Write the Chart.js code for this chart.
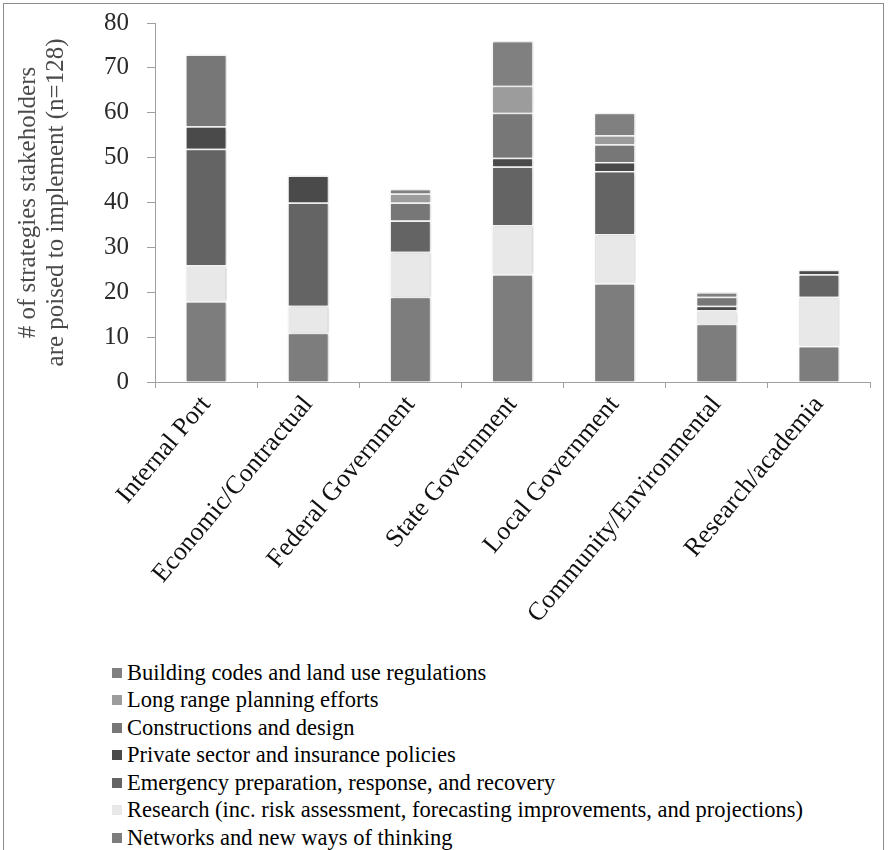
<!DOCTYPE html>
<html>
<head>
<meta charset="utf-8">
<script src="https://cdn.jsdelivr.net/npm/chart.js@4"></script>
<style>
  body { margin: 0; background: #fff; }
  #wrap { position: relative; width: 890px; height: 850px; overflow: hidden; background: #fff; }
  #frame { position: absolute; left: 3px; top: 3px; width: 881px; height: 900px; border: 1px solid #8c8c8c; box-sizing: border-box; }
  #chart { position: absolute; left: 0; top: 0; }
  #legend { position: absolute; left: 112px; top: 659px; font-family: 'Liberation Serif', serif; font-size: 22.5px; color: #000; }
  .item { display: flex; align-items: center; height: 27.5px; white-space: nowrap; }
  .sw { width: 10px; height: 10px; margin-right: 5px; flex: none; }
</style>
</head>
<body>
<div id="wrap">
  <div id="frame"></div>
  <canvas id="chart" width="890" height="640"></canvas>
  <div id="legend"></div>
</div>
<script>
// Stakeholder groups along the x axis
const categories = ['Internal Port', 'Economic/Contractual', 'Federal Government', 'State Government',
  'Local Government', 'Community/Environmental', 'Research/academia'];

// Strategy types, stacked bottom to top
const networks      = [18, 11, 19, 24, 22, 13, 8];
const research      = [8, 6, 10, 11, 11, 3, 11];
const emergency     = [26, 23, 7, 13, 14, 0, 5];
const privateSector = [5, 6, 0, 2, 2, 1, 1];
const constructions = [16, 0, 4, 10, 4, 2, 0];
const longRange     = [0, 0, 2, 6, 2, 0, 0];
const buildingCodes = [0, 0, 1, 10, 5, 1, 0];

const yTicks = [0, 10, 20, 30, 40, 50, 60, 70, 80];
const yTitle = ['# of strategies stakeholders', 'are poised to implement (n=128)'];

const series = [
  { label: 'Networks and new ways of thinking', data: networks, color: '#7d7d7d' },
  { label: 'Research (inc. risk assessment, forecasting improvements, and projections)', data: research, color: '#e8e8e8' },
  { label: 'Emergency preparation, response, and recovery', data: emergency, color: '#646464' },
  { label: 'Private sector and insurance policies', data: privateSector, color: '#4a4a4a' },
  { label: 'Constructions and design', data: constructions, color: '#777777' },
  { label: 'Long range planning efforts', data: longRange, color: '#9c9c9c' },
  { label: 'Building codes and land use regulations', data: buildingCodes, color: '#808080' }
];

const serif = 'Liberation Serif';

// soft drop shadow behind the bar segments
const barShadow = {
  id: 'barShadow',
  beforeDatasetsDraw(chart) {
    const ctx = chart.ctx;
    ctx.save();
    ctx.shadowColor = 'rgba(0,0,0,0.22)';
    ctx.shadowBlur = 3;
    ctx.shadowOffsetX = 1;
    ctx.shadowOffsetY = 0;
  },
  afterDatasetsDraw(chart) { chart.ctx.restore(); }
};

const chart = new Chart(document.getElementById('chart'), {
  type: 'bar',
  data: {
    labels: categories,
    datasets: series.map(s => ({
      label: s.label,
      data: s.data,
      backgroundColor: s.color,
      borderColor: '#ffffff',
      borderWidth: 1.5,
      categoryPercentage: 1,
      barPercentage: 0.41
    }))
  },
  plugins: [barShadow],
  options: {
    responsive: false,
    animation: false,
    layout: { padding: { left: 0, right: 20, top: 23, bottom: 0 } },
    plugins: { legend: { display: false }, tooltip: { enabled: false } },
    scales: {
      x: {
        stacked: true,
        grid: { offset: true, drawOnChartArea: false, tickLength: 6, color: '#a0a0a0' },
        border: { color: '#a0a0a0' },
        ticks: {
          autoSkip: false, minRotation: 50, maxRotation: 50, padding: 2,
          color: '#111', font: { family: serif, size: 26 }
        },
        afterFit(scale) { scale.height = 258; }
      },
      y: {
        stacked: true,
        min: 0, max: 80,
        afterBuildTicks(scale) { scale.ticks = yTicks.map(v => ({ value: v })); },
        grid: { drawOnChartArea: false, tickLength: 8, color: '#a0a0a0' },
        border: { color: '#a0a0a0' },
        ticks: { padding: 18, color: '#2a2a2a', font: { family: serif, size: 25 } },
        title: {
          display: true, text: yTitle, color: '#4a4a4a',
          font: { family: serif, size: 25, lineHeight: 1.12 },
          padding: { top: 14, bottom: 0 }
        },
        afterFit(scale) {
          scale.width = 155;
          scale.paddingTop = 8;
          scale.paddingBottom = 0;
        }
      }
    }
  }
});

// Legend listed top of stack first
const legend = document.getElementById('legend');
chart.data.datasets.slice().reverse().forEach(ds => {
  const row = document.createElement('div');
  row.className = 'item';
  const sw = document.createElement('span');
  sw.className = 'sw';
  sw.style.background = ds.backgroundColor;
  const txt = document.createElement('span');
  txt.textContent = ds.label;
  row.appendChild(sw);
  row.appendChild(txt);
  legend.appendChild(row);
});
</script>
</body>
</html>
